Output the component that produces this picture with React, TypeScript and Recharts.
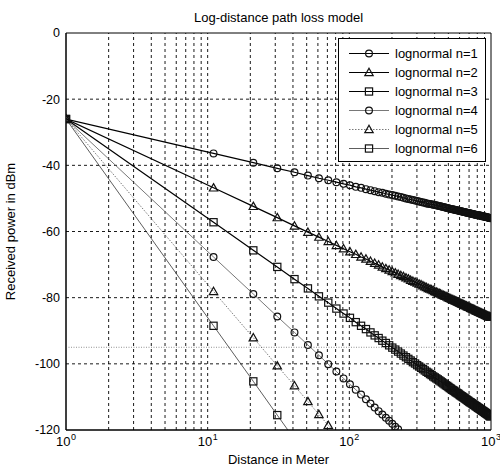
import React from 'react';
import { LineChart, Line, XAxis, YAxis, ReferenceLine, ReferenceArea } from 'recharts';

const distances = [
  1, 11, 21, 31, 41, 51, 61, 71, 81, 91,
  101, 111, 121, 131, 141, 151, 161, 171, 181, 191,
  201, 211, 221, 231, 241, 251, 261, 271, 281, 291,
  301, 311, 321, 331, 341, 351, 361, 371, 381, 391,
  401, 411, 421, 431, 441, 451, 461, 471, 481, 491,
  501, 511, 521, 531, 541, 551, 561, 571, 581, 591,
  601, 611, 621, 631, 641, 651, 661, 671, 681, 691,
  701, 711, 721, 731, 741, 751, 761, 771, 781, 791,
  801, 811, 821, 831, 841, 851, 861, 871, 881, 891,
  901, 911, 921, 931, 941, 951, 961, 971, 981, 991,
];

const powerN1 = [
  -26.0, -36.4, -39.2, -40.9, -42.1, -43.1, -43.9, -44.5, -45.1, -45.6,
  -46.0, -46.5, -46.8, -47.2, -47.5, -47.8, -48.1, -48.3, -48.6, -48.8,
  -49.0, -49.2, -49.4, -49.6, -49.8, -50.0, -50.2, -50.3, -50.5, -50.6,
  -50.8, -50.9, -51.1, -51.2, -51.3, -51.5, -51.6, -51.7, -51.8, -51.9,
  -52.0, -52.1, -52.2, -52.3, -52.4, -52.5, -52.6, -52.7, -52.8, -52.9,
  -53.0, -53.1, -53.2, -53.3, -53.3, -53.4, -53.5, -53.6, -53.6, -53.7,
  -53.8, -53.9, -53.9, -54.0, -54.1, -54.1, -54.2, -54.3, -54.3, -54.4,
  -54.5, -54.5, -54.6, -54.6, -54.7, -54.8, -54.8, -54.9, -54.9, -55.0,
  -55.0, -55.1, -55.1, -55.2, -55.2, -55.3, -55.4, -55.4, -55.4, -55.5,
  -55.5, -55.6, -55.6, -55.7, -55.7, -55.8, -55.8, -55.9, -55.9, -56.0,
];

const powerN2 = [
  -26.0, -46.8, -52.4, -55.8, -58.3, -60.2, -61.7, -63.0, -64.2, -65.2,
  -66.1, -66.9, -67.7, -68.3, -69.0, -69.6, -70.1, -70.7, -71.2, -71.6,
  -72.1, -72.5, -72.9, -73.3, -73.6, -74.0, -74.3, -74.7, -75.0, -75.3,
  -75.6, -75.9, -76.1, -76.4, -76.7, -76.9, -77.2, -77.4, -77.6, -77.8,
  -78.1, -78.3, -78.5, -78.7, -78.9, -79.1, -79.3, -79.5, -79.6, -79.8,
  -80.0, -80.2, -80.3, -80.5, -80.7, -80.8, -81.0, -81.1, -81.3, -81.4,
  -81.6, -81.7, -81.9, -82.0, -82.1, -82.3, -82.4, -82.5, -82.7, -82.8,
  -82.9, -83.0, -83.2, -83.3, -83.4, -83.5, -83.6, -83.7, -83.9, -84.0,
  -84.1, -84.2, -84.3, -84.4, -84.5, -84.6, -84.7, -84.8, -84.9, -85.0,
  -85.1, -85.2, -85.3, -85.4, -85.5, -85.6, -85.7, -85.7, -85.8, -85.9,
];

const powerN3 = [
  -26.0, -57.2, -65.7, -70.7, -74.4, -77.2, -79.6, -81.5, -83.3, -84.8,
  -86.1, -87.4, -88.5, -89.5, -90.5, -91.4, -92.2, -93.0, -93.7, -94.4,
  -95.1, -95.7, -96.3, -96.9, -97.5, -98.0, -98.5, -99.0, -99.5, -99.9,
  -100.4, -100.8, -101.2, -101.6, -102.0, -102.4, -102.7, -103.1, -103.4, -103.8,
  -104.1, -104.4, -104.7, -105.0, -105.3, -105.6, -105.9, -106.2, -106.5, -106.7,
  -107.0, -107.3, -107.5, -107.8, -108.0, -108.2, -108.5, -108.7, -108.9, -109.1,
  -109.4, -109.6, -109.8, -110.0, -110.2, -110.4, -110.6, -110.8, -111.0, -111.2,
  -111.4, -111.6, -111.7, -111.9, -112.1, -112.3, -112.4, -112.6, -112.8, -112.9,
  -113.1, -113.3, -113.4, -113.6, -113.7, -113.9, -114.1, -114.2, -114.3, -114.5,
  -114.6, -114.8, -114.9, -115.1, -115.2, -115.3, -115.5, -115.6, -115.8, -115.9,
];

const powerN4 = [
  -26.0, -67.7, -78.9, -85.7, -90.5, -94.3, -97.4, -100.1, -102.3, -104.4,
  -106.2, -107.8, -109.3, -110.7, -112.0, -113.2, -114.3, -115.3, -116.3, -117.2,
  -118.1, -119.0, -119.8, -120.5,
];

const powerN5 = [-26.0, -78.1, -92.1, -100.6, -106.6, -111.4, -115.3, -118.6, -121.4];

const powerN6 = [-26.0, -88.5, -105.3, -115.5, -122.8];

const seriesNames = [
  'lognormal n=1', 'lognormal n=2', 'lognormal n=3',
  'lognormal n=4', 'lognormal n=5', 'lognormal n=6',
];

const xMajorTicks = [1, 10, 100, 1000];
const xMinorTicks = [2, 3, 4, 5, 6, 7, 8, 9, 20, 30, 40, 50, 60, 70, 80, 90, 200, 300, 400, 500, 600, 700, 800, 900];
const yTicks = [-120, -100, -80, -60, -40, -20, 0];
const sensitivityLevel = -95;

const titleText = 'Log-distance path loss model';
const xLabelText = 'Distance in Meter';
const yLabelText = 'Received power in dBm';

const allSeries = [powerN1, powerN2, powerN3, powerN4, powerN5, powerN6];
const keys = ['n1', 'n2', 'n3', 'n4', 'n5', 'n6'];

const data = distances.map((d, i) => {
  const row: Record<string, number | undefined> = { d };
  keys.forEach((k, s) => {
    row[k] = i < allSeries[s].length ? allSeries[s][i] : undefined;
  });
  return row;
});

const FONT = '"Liberation Sans", Arial, Helvetica, sans-serif';

type Shape = 'circle' | 'triangle' | 'square';
const seriesStyle: { shape: Shape; stroke: string; width: number; dash?: string }[] = [
  { shape: 'circle', stroke: '#000', width: 1.2 },
  { shape: 'triangle', stroke: '#000', width: 1.2 },
  { shape: 'square', stroke: '#000', width: 1.2 },
  { shape: 'circle', stroke: '#555', width: 0.8 },
  { shape: 'triangle', stroke: '#555', width: 0.8, dash: '1.5 1.5' },
  { shape: 'square', stroke: '#333', width: 0.8 },
];

function markerEl(shape: Shape, cx: number, cy: number, stroke: string, key?: string) {
  if (shape === 'circle') {
    return <circle key={key} cx={cx} cy={cy} r={3.4} fill="none" stroke={stroke} strokeWidth={1.2} />;
  }
  if (shape === 'triangle') {
    const s = 4.2;
    const pts = `${cx},${cy - s} ${cx + s},${cy + s * 0.75} ${cx - s},${cy + s * 0.75}`;
    return <polygon key={key} points={pts} fill="none" stroke={stroke} strokeWidth={1.2} />;
  }
  return <rect key={key} x={cx - 3.6} y={cy - 3.6} width={7.2} height={7.2} fill="none" stroke={stroke} strokeWidth={1.2} />;
}

const makeDot = (shape: Shape, dataKey: string) => (props: any) => {
  const { cx, cy, index, payload } = props;
  const v = payload ? payload[dataKey] : undefined;
  const key = `${dataKey}-m-${index}`;
  if (cx == null || cy == null || v == null || v < -120 || v > 0) return <g key={key} />;
  return markerEl(shape, cx, cy, '#111', key);
};

const XTick = (props: any) => {
  const { x, y, payload } = props;
  const exp = Math.round(Math.log10(payload.value));
  return (
    <g>
      <text x={x} y={y + 16} textAnchor="middle" fontSize={13} fontFamily={FONT} fill="#000">
        10
        <tspan dx={0.5} dy={-6} fontSize={9}>{exp}</tspan>
      </text>
    </g>
  );
};

const LegendBox = () => (
  <div
    style={{
      position: 'absolute',
      left: 338,
      top: 38,
      width: 148,
      border: '1px solid #000',
      background: '#fff',
      padding: '5px 0 3px 0',
      boxSizing: 'border-box',
      fontFamily: FONT,
      fontSize: 13,
    }}
  >
    {seriesNames.map((name, i) => {
      const st = seriesStyle[i];
      return (
        <div key={name} style={{ height: 19, display: 'flex', alignItems: 'center' }}>
          <svg width={56} height={19} style={{ display: 'block' }}>
            <line x1={10} x2={50} y1={9.5} y2={9.5} stroke={st.stroke} strokeWidth={st.width} strokeDasharray={st.dash} />
            {markerEl(st.shape, 30, 9.5, '#111')}
          </svg>
          <span style={{ color: '#000', whiteSpace: 'nowrap' }}>{name}</span>
        </div>
      );
    })}
  </div>
);

export default function App() {
  return (
    <div style={{ position: 'absolute', left: 0, top: 0, width: 500, height: 470, background: '#fff' }}>
      <div
        style={{
          position: 'absolute',
          left: 66,
          top: 10,
          width: 425,
          textAlign: 'center',
          fontFamily: FONT,
          fontSize: 13,
          lineHeight: '16px',
          color: '#000',
        }}
      >
        {titleText}
      </div>
      <LineChart
        width={500}
        height={470}
        data={data}
        margin={{ top: 33, right: 9, left: 0, bottom: 0 }}
      >
        <XAxis
          dataKey="d"
          type="number"
          scale="log"
          domain={[1, 1000]}
          ticks={xMajorTicks}
          interval={0}
          allowDataOverflow
          height={40}
          tickLine={false}
          tickSize={0}
          tickMargin={0}
          axisLine={{ stroke: '#000' }}
          tick={<XTick />}
          label={{
            content: (p: any) => {
              const vb = p.viewBox;
              return (
                <text x={vb.x + vb.width / 2} y={vb.y + 34} textAnchor="middle" fontSize={13} fontFamily={FONT} fill="#000">
                  {xLabelText}
                </text>
              );
            },
          }}
        />
        <YAxis
          type="number"
          domain={[-120, 0]}
          ticks={yTicks}
          interval={0}
          allowDataOverflow
          width={66}
          tickLine={false}
          tickSize={0}
          tickMargin={6}
          axisLine={{ stroke: '#000' }}
          tick={{ fontSize: 12.5, fill: '#000', fontFamily: FONT }}
          label={{
            content: (p: any) => {
              const vb = p.viewBox;
              const cx = vb.x + 12;
              const cy = vb.y + vb.height / 2;
              return (
                <text x={cx} y={cy} textAnchor="middle" fontSize={13} fontFamily={FONT} fill="#000" transform={`rotate(-90 ${cx} ${cy})`} dominantBaseline="middle">
                  {yLabelText}
                </text>
              );
            },
          }}
        />
        {[...xMinorTicks, 10, 100].map((v) => (
          <ReferenceLine key={`gx-${v}`} x={v} stroke="#000" strokeWidth={0.9} strokeDasharray="3 3" ifOverflow="hidden" />
        ))}
        {yTicks.filter((v) => v > -120 && v < 0).map((v) => (
          <ReferenceLine key={`gy-${v}`} y={v} stroke="#000" strokeWidth={0.9} strokeDasharray="3 3" />
        ))}
        <ReferenceLine y={sensitivityLevel} stroke="#888" strokeWidth={0.9} strokeDasharray="1 1.5" />
        <ReferenceArea x1={1} x2={1000} y1={-120} y2={0} fill="none" stroke="#000" strokeWidth={1} />
        {keys.map((k, i) => {
          const st = seriesStyle[i];
          return (
            <Line
              key={k}
              type="linear"
              dataKey={k}
              name={seriesNames[i]}
              stroke={st.stroke}
              strokeWidth={st.width}
              strokeDasharray={st.dash}
              dot={makeDot(st.shape, k)}
              activeDot={false}
              isAnimationActive={false}
              connectNulls={false}
            />
          );
        })}
      </LineChart>
      <LegendBox />
    </div>
  );
}
